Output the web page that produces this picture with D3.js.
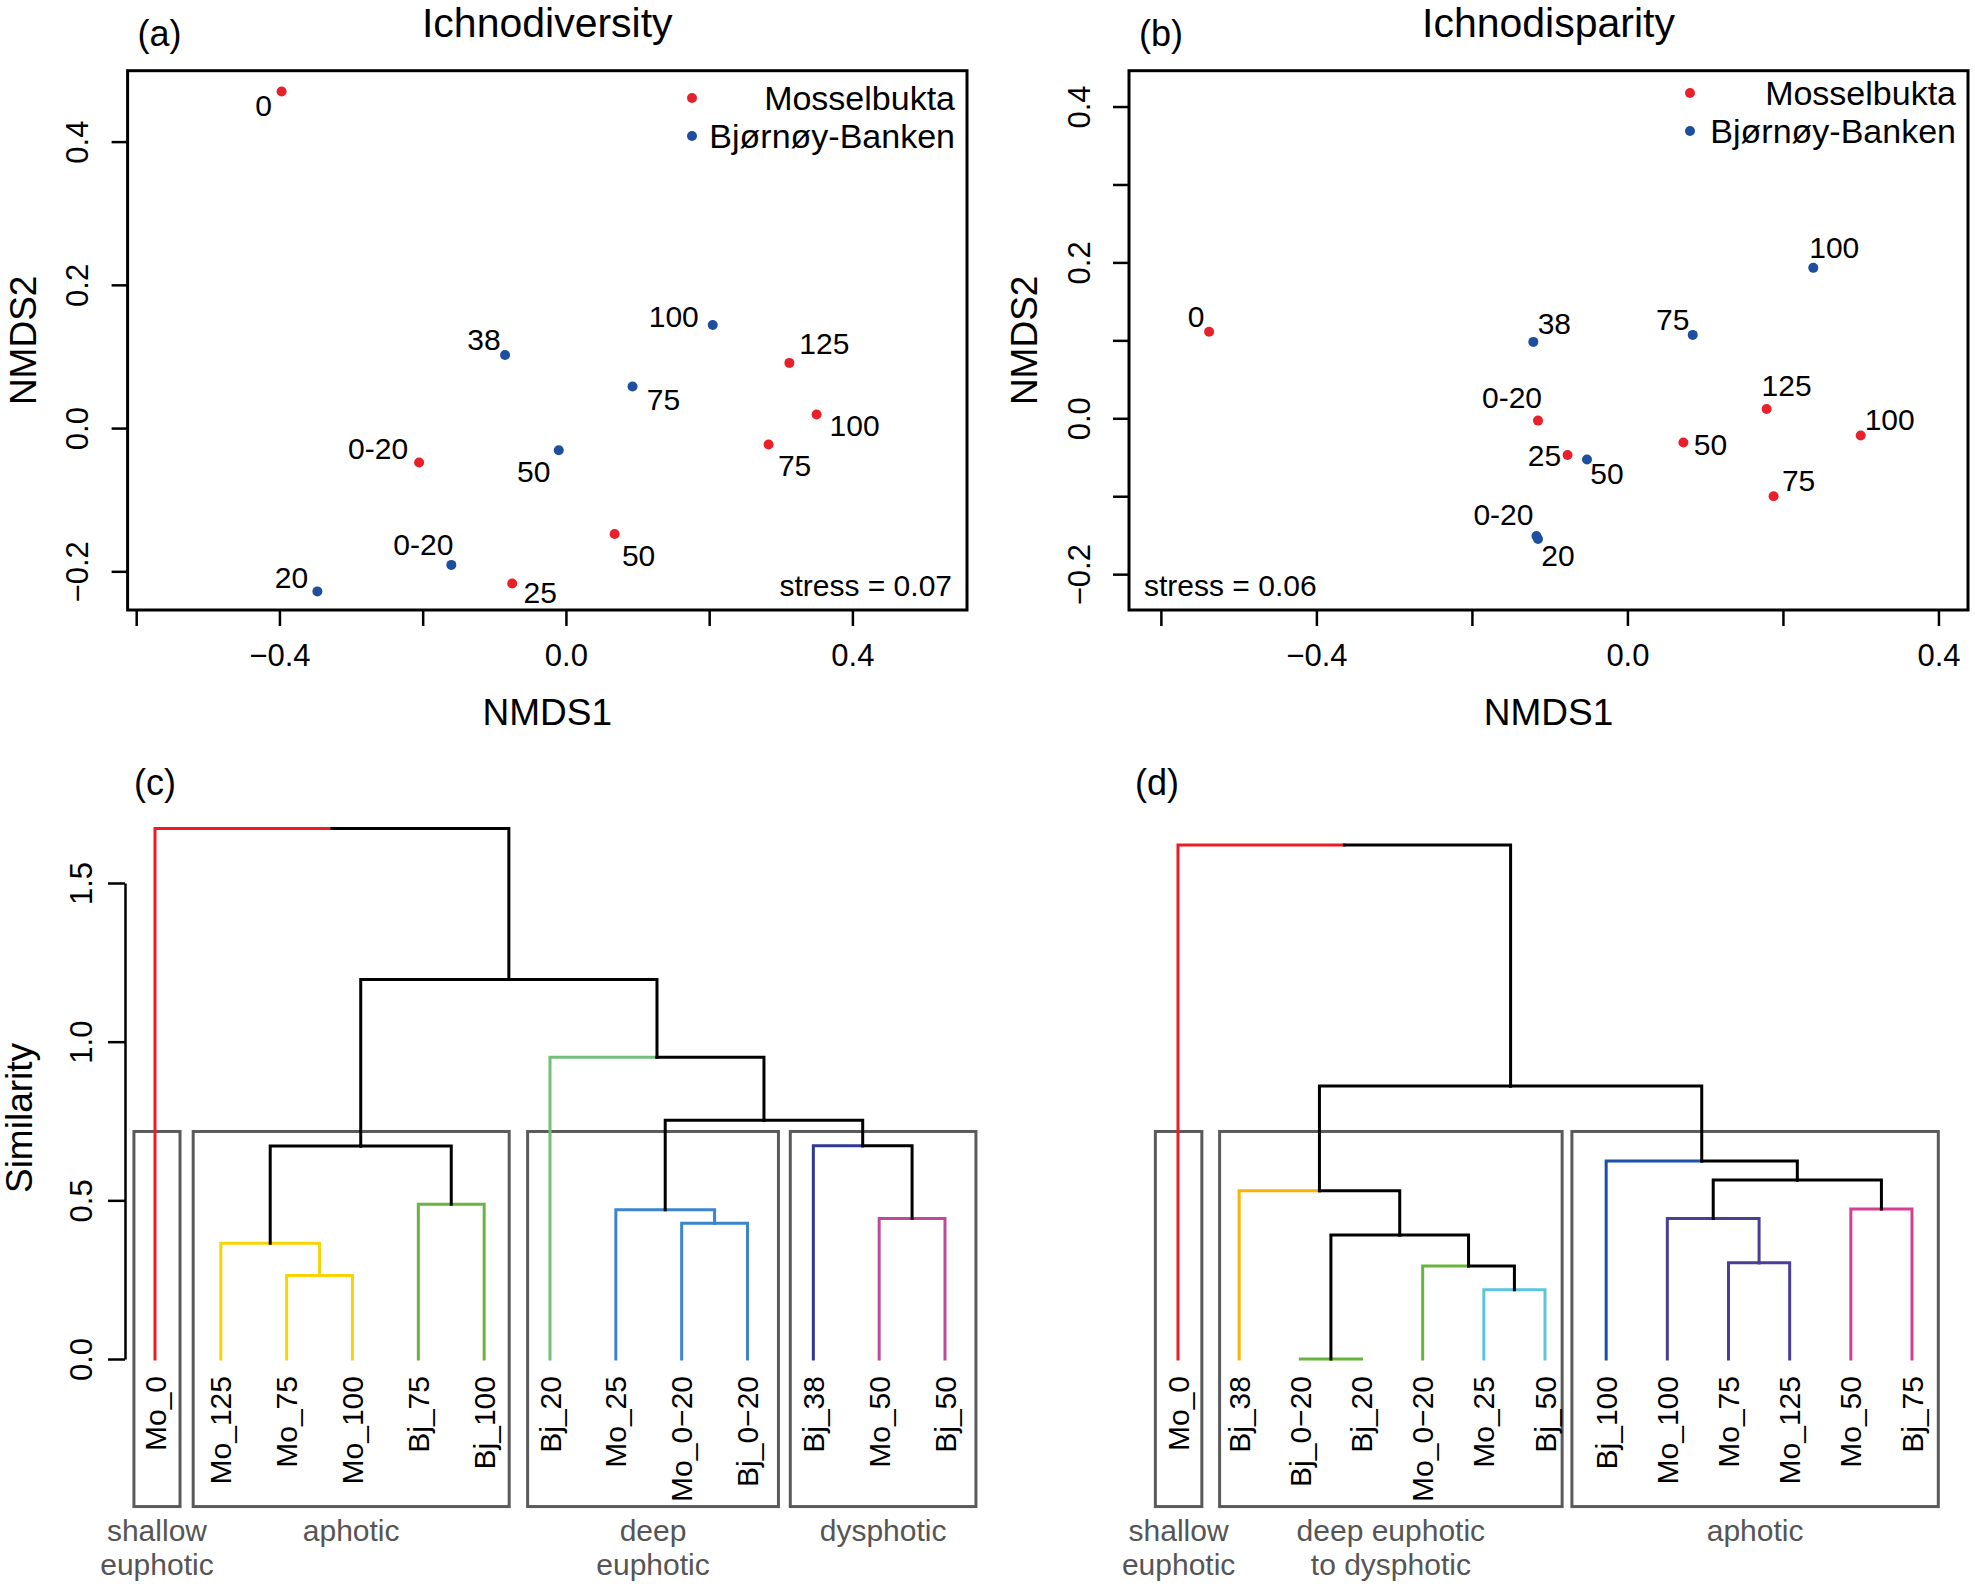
<!DOCTYPE html>
<meta charset="utf-8">
<head>
<style>
  body { margin: 0; background: #fff; }
  svg { display: block; }
  text { font-family: "Liberation Sans", Arial, Helvetica, sans-serif; }
</style>
</head>
<body>
<div id="fig"></div>
<script src="https://d3js.org/d3.v7.min.js"></script>
<script>

// ---- NMDS scores, (a) ichnodiversity
var sitesMoA = ["0", "0-20", "25", "50", "75", "100", "125"];
var xMoA = [-0.397, -0.205, -0.075, 0.068, 0.283, 0.350, 0.312];
var yMoA = [0.470, -0.048, -0.217, -0.148, -0.023, 0.019, 0.091];
var sitesBjA = ["20", "0-20", "38", "50", "75", "100"];
var xBjA = [-0.347, -0.160, -0.085, -0.010, 0.093, 0.205];
var yBjA = [-0.228, -0.191, 0.102, -0.031, 0.058, 0.144];

// ---- NMDS scores, (b) ichnodisparity
var sitesMoB = ["0", "0-20", "25", "50", "75", "100", "125"];
var xMoB = [-0.538, -0.115, -0.077, 0.072, 0.188, 0.300, 0.179];
var yMoB = [0.111, -0.003, -0.047, -0.031, -0.100, -0.022, 0.012];
var sitesBjB = ["0-20", "20", "38", "50", "75", "100"];
var xBjB = [-0.117, -0.115, -0.121, -0.052, 0.084, 0.239];
var yBjB = [-0.151, -0.155, 0.098, -0.053, 0.107, 0.193];

var stressA = "stress = 0.07", stressB = "stress = 0.06";
var seriesNames = ["Mosselbukta", "Bjørnøy-Banken"];

// ---- cluster trees (hclust style merges: -n = leaf n, +k = merge row k)
var leavesC = ["Mo_0", "Mo_125", "Mo_75", "Mo_100", "Bj_75", "Bj_100", "Bj_20",
               "Mo_25", "Mo_0\u221220", "Bj_0\u221220", "Bj_38", "Mo_50", "Bj_50"];
var mergeC = [[-3, -4, 0.263], [-2, 1, 0.365], [-5, -6, 0.488], [-9, -10, 0.428],
              [-12, -13, 0.443], [-8, 4, 0.470], [2, 3, 0.671], [-11, 5, 0.672],
              [6, 8, 0.752], [-7, 9, 0.951], [7, 10, 1.196], [-1, 11, 1.672]];
var groupC = [0, 1, 1, 1, 2, 2, 3, 4, 4, 4, 5, 6, 6];
var zonesC = [["shallow", "euphotic"], ["aphotic"], ["deep", "euphotic"], ["dysphotic"]];
var zoneSpanC = [[0.68, 1.38], [1.58, 6.38], [6.66, 10.47], [10.65, 13.47]];

var leavesD = ["Mo_0", "Bj_38", "Bj_0\u221220", "Bj_20", "Mo_0\u221220", "Mo_25", "Bj_50",
               "Bj_100", "Mo_100", "Mo_75", "Mo_125", "Mo_50", "Bj_75"];
var mergeD = [[-3, -4, 0.0], [-6, -7, 0.218], [-5, 2, 0.293], [-10, -11, 0.303],
              [1, 3, 0.391], [-9, 4, 0.443], [-12, -13, 0.473], [-2, 5, 0.530],
              [6, 7, 0.564], [-8, 9, 0.624], [8, 10, 0.860], [-1, 11, 1.620]];
var groupD = [0, 1, 2, 2, 3, 4, 4, 5, 6, 6, 6, 7, 7];
var zonesD = [["shallow", "euphotic"], ["deep euphotic", "to dysphotic"], ["aphotic"]];
var zoneSpanD = [[0.63, 1.39], [1.68, 7.28], [7.44, 13.43]];
var zoneTop = 0.717, zoneBottom = -0.465;

var simTicks = [0, 0.5, 1.0, 1.5];

// ---- styles / layout
var red = "#e8202a", blue = "#1d4f9e";
var colC = ["#ec1c24", "#f7d500", "#6cb33f", "#72c07a", "#3a85cc", "#2e3a96", "#bf4a9b"];
var colD = ["#ec1c24", "#f8b400", "#69b43b", "#69b43b", "#5ec3dc", "#1c4fa5", "#4a3f98", "#d23f93"];
// label offsets (px) from each point
var offMoA = [[-18, 14], [-41, -14], [28, 9], [24, 21], [26, 21], [38, 11], [35, -19]];
var offBjA = [[-26, -14], [-28, -20], [-21, -16], [-25, 21], [31, 13], [-39, -8]];
var offMoB = [[-13, -15], [-26, -23], [-23, 1], [27, 2], [25, -16], [29, -16], [20, -23]];
var offBjB = [[-33, -21], [20, 16], [21, -18], [20, 14], [-20, -15], [21, -20]];

var W = 1975, H = 1586;
var svg = d3.select("#fig").append("svg").attr("width", W).attr("height", H);

function minus(v) { return v < 0 ? "\u2212" + Math.abs(v).toFixed(1) : v.toFixed(1); }

function nmds(o) {
  var x = d3.scaleLinear().domain(o.xdom).range(o.xr);
  var y = d3.scaleLinear().domain(o.ydom).range(o.yr);
  var g = svg.append("g");

  // x axis
  var xa = g.append("g").attr("transform", "translate(0," + o.yr[0] + ")")
    .call(d3.axisBottom(x).tickValues(o.xticks).tickSize(16).tickSizeOuter(0)
      .tickFormat(function(d) { return o.xlab.some(function(v) { return Math.abs(v - d) < 1e-9; }) ? minus(d) : ""; }));
  xa.select(".domain").remove();
  xa.selectAll("line").attr("stroke", "#000").attr("stroke-width", 2.5);
  xa.selectAll("text").attr("font-size", 31).attr("font-family", null).attr("fill", "#000")
    .attr("y", 0).attr("dy", 0).attr("transform", "translate(0,56)");

  // y axis
  var ya = g.append("g").attr("transform", "translate(" + o.xr[0] + ",0)")
    .call(d3.axisLeft(y).tickValues(o.yticks).tickSize(16).tickSizeOuter(0)
      .tickFormat(function(d) { return o.ylab.some(function(v) { return Math.abs(v - d) < 1e-9; }) ? minus(d) : ""; }));
  ya.select(".domain").remove();
  ya.selectAll("line").attr("stroke", "#000").attr("stroke-width", 2.5);
  ya.selectAll("text").attr("font-size", 31).attr("font-family", null).attr("fill", "#000")
    .attr("x", 0).attr("dy", "0.35em").attr("text-anchor", "middle")
    .attr("transform", "translate(-50,0) rotate(-90)");

  // frame
  g.append("rect").attr("x", o.xr[0]).attr("y", o.yr[1])
    .attr("width", o.xr[1] - o.xr[0]).attr("height", o.yr[0] - o.yr[1])
    .attr("fill", "none").attr("stroke", "#000").attr("stroke-width", 3);

  // axis titles
  g.append("text").attr("x", (o.xr[0] + o.xr[1]) / 2).attr("y", 725)
    .attr("text-anchor", "middle").attr("font-size", 37).text("NMDS1");
  g.append("text").attr("transform", "translate(" + (o.xr[0] - 105) + "," + ((o.yr[0] + o.yr[1]) / 2) + ") rotate(-90)")
    .attr("dy", "0.35em").attr("text-anchor", "middle").attr("font-size", 37).text("NMDS2");

  // title and panel letter
  g.append("text").attr("x", (o.xr[0] + o.xr[1]) / 2).attr("y", 37)
    .attr("text-anchor", "middle").attr("font-size", 41).text(o.title);
  g.append("text").attr("x", o.xr[0] + 10).attr("y", 46).attr("font-size", 36).text(o.letter);

  // points and labels
  [[o.mo, red], [o.bj, blue]].forEach(function(s) {
    var d = s[0];
    g.append("g").selectAll("circle").data(d.names).join("circle")
      .attr("cx", function(n, i) { return x(d.x[i]); })
      .attr("cy", function(n, i) { return y(d.y[i]); })
      .attr("r", 5).attr("fill", s[1]);
    g.append("g").selectAll("text").data(d.names).join("text")
      .attr("x", function(n, i) { return x(d.x[i]) + d.off[i][0]; })
      .attr("y", function(n, i) { return y(d.y[i]) + d.off[i][1]; })
      .attr("dy", "0.35em").attr("text-anchor", "middle").attr("font-size", 30)
      .text(function(n) { return n; });
  });

  // legend
  seriesNames.forEach(function(n, i) {
    var ly = o.legY + i * 38;
    g.append("circle").attr("cx", o.legX).attr("cy", ly).attr("r", 5).attr("fill", i ? blue : red);
    g.append("text").attr("x", o.xr[1] - 12).attr("y", ly).attr("dy", "0.35em")
      .attr("text-anchor", "end").attr("font-size", 34).text(n);
  });

  // stress
  g.append("text").attr("x", o.stressX).attr("y", 596).attr("text-anchor", o.stressAnchor)
    .attr("font-size", 30).text(o.stress);
}

nmds({
  xdom: [-0.612, 0.560], xr: [127.6, 967], ydom: [-0.254, 0.499], yr: [610, 70.7],
  xticks: [-0.6, -0.4, -0.2, 0, 0.2, 0.4], xlab: [-0.4, 0, 0.4],
  yticks: [-0.2, 0, 0.2, 0.4], ylab: [-0.2, 0, 0.2, 0.4],
  title: "Ichnodiversity", letter: "(a)",
  mo: { names: sitesMoA, x: xMoA, y: yMoA, off: offMoA },
  bj: { names: sitesBjA, x: xBjA, y: yBjA, off: offBjA },
  legX: 692, legY: 98, stress: stressA, stressX: 952, stressAnchor: "end"
});

nmds({
  xdom: [-0.641, 0.438], xr: [1129, 1968], ydom: [-0.246, 0.446], yr: [610, 70.7],
  xticks: [-0.6, -0.4, -0.2, 0, 0.2, 0.4], xlab: [-0.4, 0, 0.4],
  yticks: [-0.2, -0.1, 0, 0.1, 0.2, 0.3, 0.4], ylab: [-0.2, 0, 0.2, 0.4],
  title: "Ichnodisparity", letter: "(b)",
  mo: { names: sitesMoB, x: xMoB, y: yMoB, off: offMoB },
  bj: { names: sitesBjB, x: xBjB, y: yBjB, off: offBjB },
  legX: 1690, legY: 93, stress: stressB, stressX: 1144, stressAnchor: "start"
});

// ---- dendrograms
function dendro(o) {
  var x = d3.scaleLinear().domain([1, o.leaves.length]).range(o.xr);
  var y = d3.scaleLinear().domain([0, 1.5]).range([1359, 883]);
  var g = svg.append("g");

  // node positions
  var nodes = o.merge.map(function() { return null; });
  function info(k) {
    if (k < 0) return { x: -k, h: 0, members: [-k - 1] };
    return nodes[k - 1];
  }
  o.merge.forEach(function(m, i) {
    var a = info(m[0]), b = info(m[1]);
    nodes[i] = { x: (a.x + b.x) / 2, h: m[2], members: a.members.concat(b.members) };
  });

  // zone boxes
  g.append("g").selectAll("rect").data(o.spans).join("rect")
    .attr("x", function(s) { return x(s[0]); })
    .attr("width", function(s) { return x(s[1]) - x(s[0]); })
    .attr("y", y(zoneTop)).attr("height", y(zoneBottom) - y(zoneTop))
    .attr("fill", "none").attr("stroke", "#5a5a5a").attr("stroke-width", 3);

  // branches
  var edges = [];
  o.merge.forEach(function(m, i) {
    var p = nodes[i];
    var gs = p.members.map(function(l) { return o.group[l]; });
    var pure = gs.every(function(v) { return v === gs[0]; });
    [m[0], m[1]].forEach(function(c) {
      var ci = info(c);
      var col = c < 0 ? o.col[o.group[-c - 1]] : (pure ? o.col[gs[0]] : "#000");
      edges.push({ px: p.x, ph: p.h, cx: ci.x, ch: ci.h, col: col });
    });
  });
  edges.sort(function(a, b) { return (a.col === "#000") - (b.col === "#000"); });
  g.append("g").selectAll("path").data(edges).join("path")
    .attr("d", function(e) { return "M" + x(e.px) + "," + y(e.ph) + "H" + x(e.cx) + "V" + y(e.ch); })
    .attr("fill", "none").attr("stroke", function(e) { return e.col; })
    .attr("stroke-width", 3).attr("stroke-linecap", "square");

  // leaf labels
  g.append("g").selectAll("text").data(o.leaves).join("text")
    .attr("transform", function(l, i) { return "translate(" + x(i + 1) + "," + (y(0) + 17) + ") rotate(-90)"; })
    .attr("dy", "0.35em").attr("text-anchor", "end").attr("font-size", 30)
    .text(function(l) { return l; });

  // zone labels
  o.zones.forEach(function(z, i) {
    var cx = x((o.spans[i][0] + o.spans[i][1]) / 2);
    z.forEach(function(t, j) {
      g.append("text").attr("x", cx).attr("y", 1541 + j * 34).attr("text-anchor", "middle")
        .attr("font-size", 30).attr("fill", "#555").text(t);
    });
  });

  g.append("text").attr("x", o.letterX).attr("y", 795).attr("font-size", 36).text(o.letter);

  if (o.axis) {
    var ya = g.append("g").attr("transform", "translate(125,0)")
      .call(d3.axisLeft(y).tickValues(simTicks).tickSize(17).tickSizeOuter(0).tickFormat(minus));
    ya.select(".domain").attr("stroke", "#000").attr("stroke-width", 2.5);
    ya.selectAll("line").attr("stroke", "#000").attr("stroke-width", 2.5);
    ya.selectAll("text").attr("font-size", 31).attr("font-family", null).attr("fill", "#000")
      .attr("x", 0).attr("dy", "0.35em").attr("text-anchor", "middle")
      .attr("transform", "translate(-44,0) rotate(-90)");
    g.append("text").attr("transform", "translate(19,1118) rotate(-90)").attr("dy", "0.35em")
      .attr("text-anchor", "middle").attr("font-size", 37).text("Similarity");
  }
}

dendro({ leaves: leavesC, merge: mergeC, group: groupC, col: colC, zones: zonesC, spans: zoneSpanC,
         xr: [155, 945], letter: "(c)", letterX: 134, axis: true });
dendro({ leaves: leavesD, merge: mergeD, group: groupD, col: colD, zones: zonesD, spans: zoneSpanD,
         xr: [1178, 1912], letter: "(d)", letterX: 1135, axis: false });

</script>
</body>
